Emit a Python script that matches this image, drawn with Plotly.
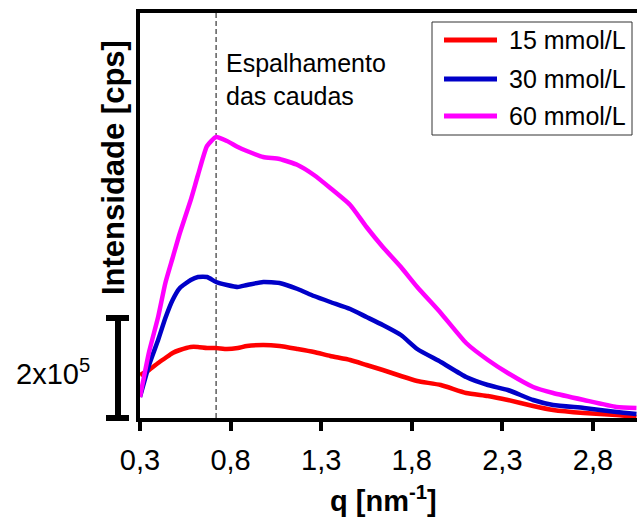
import plotly.graph_objects as go

# ---- data (intensity in units of 1e5 cps) ----
q = [0.30, 0.35, 0.40, 0.44, 0.48, 0.52, 0.58, 0.62, 0.67, 0.72, 0.78, 0.84, 0.89, 0.98,
     1.07, 1.17, 1.26, 1.35, 1.46, 1.55, 1.64, 1.74, 1.83, 1.96, 2.10, 2.22, 2.33, 2.47,
     2.58, 2.75, 2.93, 3.04]
i15 = [0.86, 0.96, 1.10, 1.20, 1.30, 1.36, 1.42, 1.42, 1.40, 1.40, 1.38, 1.40, 1.44, 1.46,
       1.44, 1.38, 1.32, 1.24, 1.16, 1.06, 0.96, 0.84, 0.74, 0.66, 0.50, 0.44, 0.36, 0.24,
       0.16, 0.10, 0.06, 0.02]
i30 = [0.42, 1.06, 1.56, 2.00, 2.36, 2.60, 2.76, 2.82, 2.82, 2.72, 2.66, 2.62, 2.66, 2.72,
       2.70, 2.58, 2.44, 2.32, 2.18, 2.02, 1.86, 1.66, 1.38, 1.12, 0.82, 0.66, 0.56, 0.36,
       0.26, 0.20, 0.12, 0.08]
i60 = [0.42, 1.32, 2.02, 2.70, 3.20, 3.70, 4.36, 4.86, 5.44, 5.62, 5.54, 5.42, 5.34, 5.22,
       5.18, 5.06, 4.86, 4.60, 4.26, 3.82, 3.42, 3.02, 2.62, 2.10, 1.50, 1.16, 0.90, 0.62,
       0.50, 0.36, 0.22, 0.20]
series_names = ["15 mmol/L", "30 mmol/L", "60 mmol/L"]
series_colors = ["#FF0000", "#0000C8", "#FF00FF"]
x_ticks = [0.3, 0.8, 1.3, 1.8, 2.3, 2.8]
x_tick_labels = ["0,3", "0,8", "1,3", "1,8", "2,3", "2,8"]
X_RANGE = [0.3, 3.043]
Y_RANGE = [0, 8.1]
scale_bar_value = 2.0      # 2x10^5 cps
marker_q = 0.72            # dashed line position

FONT = "Liberation Sans, Arial, sans-serif"

# pixel -> paper helpers (plot area: x 140..637, y 13..418)
PL, PR, PT, PB = 140, 637, 13, 418
def px(xp):
    return (xp - PL) / (PR - PL)
def py(yp):
    return (PB - yp) / (PB - PT)

fig = go.Figure()
for vals, name, col in zip([i15, i30, i60], series_names, series_colors):
    fig.add_trace(go.Scatter(x=q, y=vals, mode="lines", name=name, showlegend=False,
                             line=dict(color=col, width=4.5, shape="spline", smoothing=0.5)))

# dashed vertical line
fig.add_shape(type="line", xref="x", yref="paper", x0=marker_q, x1=marker_q, y0=0, y1=1,
              line=dict(color="#444444", width=1.3, dash="5px,3px"), layer="below")

# scale bar (outside plot, paper coords computed from y range)
ytop = scale_bar_value / (Y_RANGE[1] - Y_RANGE[0])
for shp in [dict(x0=px(118), x1=px(118), y0=0, y1=ytop),
            dict(x0=px(106), x1=px(129), y0=0, y1=0),
            dict(x0=px(106), x1=px(129), y0=ytop, y1=ytop)]:
    fig.add_shape(type="line", xref="paper", yref="paper", line=dict(color="black", width=6), **shp)

fig.add_annotation(xref="paper", yref="paper", x=px(92), y=py(372),
                   xanchor="right", yanchor="middle", showarrow=False,
                   text="2x10<sup>5</sup>", font=dict(size=29, color="black", family=FONT))

# y-axis title
fig.add_annotation(xref="paper", yref="paper", x=px(113), y=py(168),
                   xanchor="center", yanchor="middle", showarrow=False, textangle=-90,
                   text="<b>Intensidade [cps]</b>", font=dict(size=31, color="black", family=FONT))

# x-axis title
fig.add_annotation(xref="paper", yref="paper", x=px(383), y=py(499),
                   xanchor="center", yanchor="middle", showarrow=False,
                   text="<b>q [nm<sup>-1</sup>]</b>", font=dict(size=29, color="black", family=FONT))

# text annotation
fig.add_annotation(xref="paper", yref="paper", x=px(224), y=py(79),
                   xanchor="left", yanchor="middle", showarrow=False, align="left",
                   text="Espalhamento<br>das caudas", font=dict(size=25, color="black", family=FONT))

# legend (box, sample lines, labels)
fig.add_shape(type="rect", xref="paper", yref="paper", x0=px(432), x1=px(632), y0=py(22), y1=py(135),
              line=dict(color="#333333", width=1), fillcolor="white", layer="above")
for k, (name, col) in enumerate(zip(series_names, series_colors)):
    yy = [40, 79, 116][k]
    fig.add_shape(type="line", xref="paper", yref="paper", x0=px(444), x1=px(497), y0=py(yy), y1=py(yy),
                  line=dict(color=col, width=5), layer="above")
    fig.add_annotation(xref="paper", yref="paper", x=px(507), y=py(yy), xanchor="left",
                       yanchor="middle", showarrow=False, text=name,
                       font=dict(size=25, color="black", family=FONT))

fig.update_layout(
    width=637, height=521,
    margin=dict(l=PL, r=637 - PR, t=PT, b=521 - PB),
    paper_bgcolor="white", plot_bgcolor="white",
    font=dict(family=FONT, color="black"),
    separators=",.",
    showlegend=False,
    xaxis=dict(range=X_RANGE, tickvals=x_ticks, ticktext=x_tick_labels,
               showgrid=False, zeroline=False, showline=True, linecolor="black", linewidth=4,
               mirror=True, ticks="outside", ticklen=9, tickwidth=4, tickcolor="black",
               ticklabelstandoff=4, tickfont=dict(size=29, family=FONT, color="black")),
    yaxis=dict(range=Y_RANGE, showgrid=False, zeroline=False, showline=True, linecolor="black",
               linewidth=4, showticklabels=False, ticks=""),
)

fig.write_html("out.html")
